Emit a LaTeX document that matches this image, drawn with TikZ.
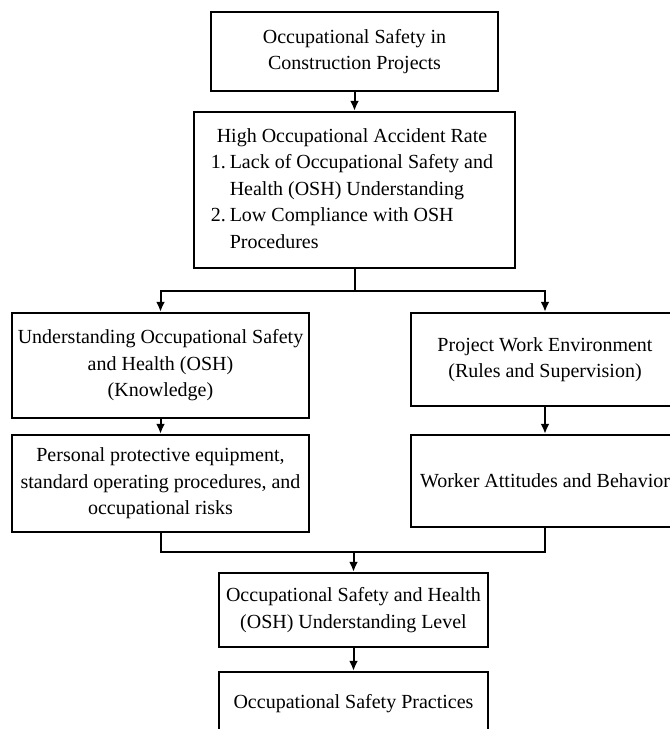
\documentclass[tikz,border=0pt]{standalone}
\usepackage{fontspec}
\setmainfont{Liberation Serif}
\usetikzlibrary{arrows.meta}
\tikzset{
  box/.style={draw, line width=2.4pt, align=center, inner sep=0pt,
    font=\fontsize{20}{26.5}\selectfont},
  link/.style={line width=2pt},
  arr/.style={link, -{Latex[length=10pt,width=9pt]}}
}
\begin{document}
\begin{tikzpicture}[x=1pt,y=-1pt]
    \useasboundingbox (0,0) rectangle (670,729);

    \node[box, minimum width=287pt, minimum height=79pt] (safety) at (354.5,51.5)
        {Occupational Safety in\\Construction Projects};

    \node[box, minimum width=321pt, minimum height=156pt] (accident) at (354.5,190) {
        \begin{tabular}{@{}r@{\hspace{4pt}}l@{}}
            \multicolumn{2}{c}{High Occupational Accident Rate} \\
            1. & Lack of Occupational Safety and \\
               & Health (OSH) Understanding \\
            2. & Low Compliance with OSH \\
               & Procedures \\
        \end{tabular}
    };

    \node[box, minimum width=297pt, minimum height=105pt] (knowledge) at (160.5,365.5)
        {Understanding Occupational Safety\\and Health (OSH)\\(Knowledge)};
    \node[box, minimum width=297pt, minimum height=97pt] (ppe) at (160.5,483.5)
        {Personal protective equipment,\\standard operating procedures, and\\occupational risks};

    \node[box, minimum width=268pt, minimum height=93pt] (environment) at (545,359.5)
        {Project Work Environment\\(Rules and Supervision)};
    \node[box, minimum width=268pt, minimum height=92pt] (attitude) at (545,481)
        {Worker Attitudes and Behavior};

    \node[box, minimum width=269pt, minimum height=74pt] (level) at (353.5,610)
        {Occupational Safety and Health\\(OSH) Understanding Level};
    \node[box, minimum width=269pt, minimum height=64pt] (practice) at (353.5,704)
        {Occupational Safety Practices};

    % split and join points
    \coordinate (split) at (354.5,291);
    \coordinate (join) at (353.5,552);

    \draw[arr] (safety) -- (accident);
    \draw[link] (accident.south) -- (split);
    \draw[arr] (split) -| (knowledge);
    \draw[arr] (split) -| (environment);

    \draw[arr] (knowledge) -- (ppe);
    \draw[arr] (environment) -- (attitude);

    \draw[link] (ppe.south) -- (ppe.south |- join) -- (attitude.south |- join) -- (attitude.south);
    \draw[arr] (join) -- (level);
    \draw[arr] (level) -- (practice);

\end{tikzpicture}
\end{document}
